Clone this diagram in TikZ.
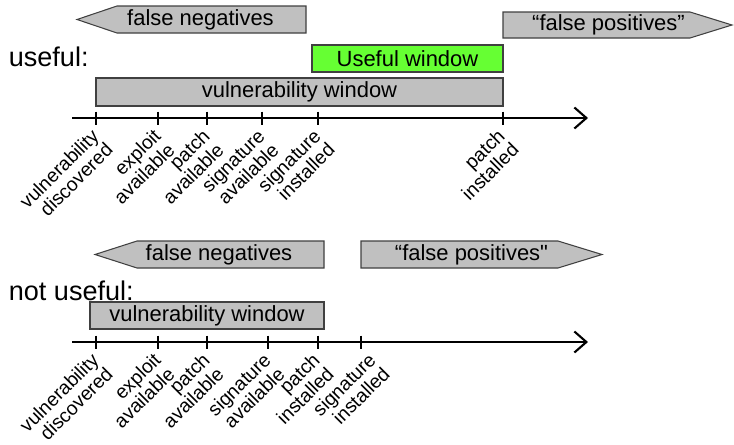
\documentclass[tikz,border=0pt]{standalone}
\usepackage{fontspec}
\setmainfont{Liberation Sans}
\newfontfamily\plainquote{Liberation Sans}
\usepackage{tikz}
\usetikzlibrary{arrows.meta,positioning,calc}
\definecolor{barfill}{RGB}{192,192,192}
\definecolor{barline}{RGB}{64,64,64}
\definecolor{usefulgreen}{RGB}{102,255,51}
\tikzset{
  bar/.style={draw=barline, fill=barfill, line width=0.6pt},
  barlabel/.style={inner sep=0pt, font=\fontsize{12.5}{14}\selectfont},
  window/.style={bar, inner sep=0pt, font=\fontsize{12.5}{14}\selectfont},
  timeline/.style={line width=1.2pt, -{Straight Barb[length=0.24cm, width=0.42cm]}},
  tick/.style={line width=1.1pt},
  event/.style={rotate=45, anchor=north east, align=right, inner sep=0pt,
    font=\fontsize{11}{9.6}\selectfont},
  heading/.style={anchor=base west, inner sep=0pt, font=\fontsize{15.4}{18}\selectfont}
}
\begin{document}
\begin{tikzpicture}
    \useasboundingbox (0,0) rectangle (14.68,8.88);

    % ---- useful ----
    \node[heading] (useful) at (0.17,7.55) {useful:};

    % false negatives / false positives
    \draw[bar] (2.34,8.76) -- (6.12,8.76) -- (6.12,8.22) -- (2.34,8.22) -- (1.54,8.49) -- cycle;
    \node[barlabel] (fntop) at (4.01,8.49) {false negatives};
    \draw[bar] (10.06,8.64) -- (13.80,8.64) -- (14.64,8.38) -- (13.80,8.12) -- (10.06,8.12) -- cycle;
    \node[barlabel] (fptop) at (12.17,8.38) {“false positives”};

    % windows
    \node[window, fill=usefulgreen, minimum width=3.82cm, minimum height=0.54cm] (usewin) at (8.15,7.71) {Useful window};
    \node[window, minimum width=8.14cm, minimum height=0.56cm] (vwtop) at (5.99,7.04) {vulnerability window};

    % time axis
    \coordinate (utstart) at (1.44,6.52);
    \coordinate (utend) at (11.76,6.52);
    \draw[timeline] (utstart) -- (utend);
    \foreach \x/\dx/\t [count=\i] in {1.92/-0.12/{vulnerability\\discovered}, 3.16/-0.12/{exploit\\available},
        4.14/-0.12/{patch\\available}, 5.24/-0.12/{signature\\available}, 6.36/-0.12/{signature\\installed},
        10.06/-0.14/{patch\\installed}} {
        \coordinate (ut\i) at (\x,6.52);
        \draw[tick] ($(ut\i)+(0,0.13)$) -- ($(ut\i)+(0,-0.13)$);
        \node[event] (ue\i) at ($(ut\i)+(\dx,-0.18)$) {\t};
    }

    % ---- not useful ----
    \node[heading] (notuseful) at (0.17,2.88) {not useful:};

    % false negatives / false positives
    \draw[bar] (2.74,4.06) -- (6.48,4.06) -- (6.48,3.52) -- (2.74,3.52) -- (1.90,3.79) -- cycle;
    \node[barlabel] (fnbot) at (4.38,3.79) {false negatives};
    \draw[bar] (7.22,4.06) -- (11.16,4.06) -- (12.04,3.79) -- (11.16,3.52) -- (7.22,3.52) -- cycle;
    \node[barlabel] (fpbot) at (9.43,3.79) {“false positives{\plainquote"}};

    % window
    \node[window, minimum width=4.68cm, minimum height=0.54cm] (vwbot) at (4.14,2.57) {vulnerability window};

    % time axis
    \coordinate (ntstart) at (1.44,2.04);
    \coordinate (ntend) at (11.76,2.04);
    \draw[timeline] (ntstart) -- (ntend);
    \foreach \x/\dx/\t [count=\i] in {1.92/-0.12/{vulnerability\\discovered}, 3.16/-0.12/{exploit\\available},
        4.14/-0.12/{patch\\available}, 5.36/-0.12/{signature\\available}, 6.36/-0.14/{patch\\installed},
        7.22/0.12/{signature\\installed}} {
        \coordinate (nt\i) at (\x,2.04);
        \draw[tick] ($(nt\i)+(0,0.13)$) -- ($(nt\i)+(0,-0.13)$);
        \node[event] (ne\i) at ($(nt\i)+(\dx,-0.18)$) {\t};
    }
\end{tikzpicture}
\end{document}
